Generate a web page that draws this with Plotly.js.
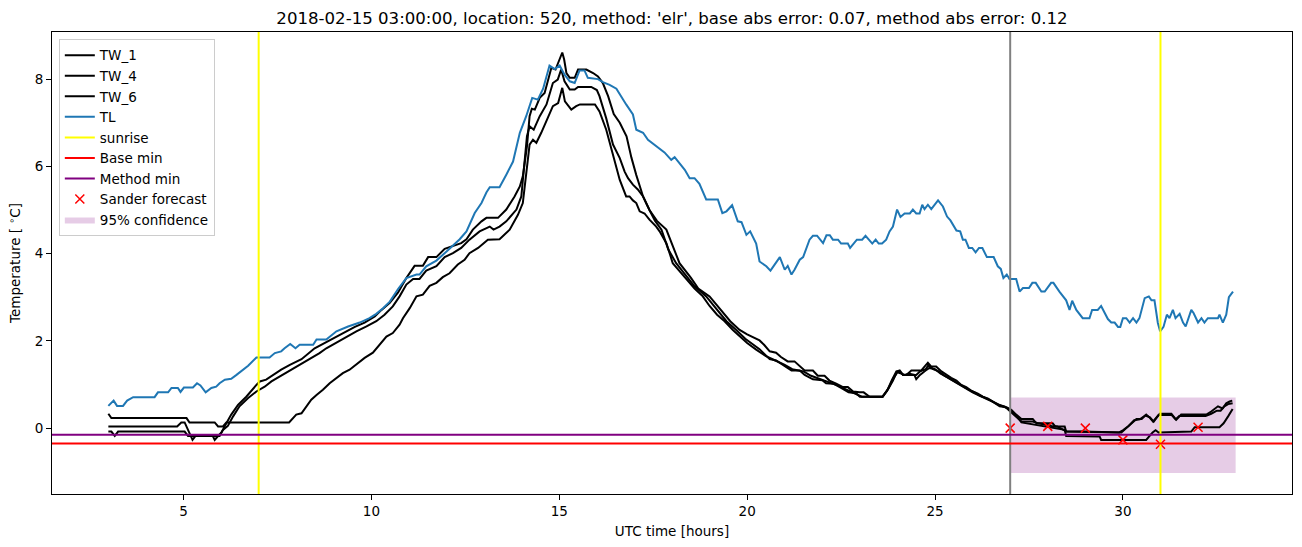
<!DOCTYPE html>
<html>
<head>
<meta charset="utf-8">
<script src="https://cdn.plot.ly/plotly-3.0.1.min.js"></script>
<style>html,body{margin:0;padding:0;background:#fff;}#chart{width:1302px;height:547px;}</style>
</head>
<body>
<div id="chart"></div>
<script>
// ---------------- data ----------------
const chartTitle = "2018-02-15 03:00:00, location: 520, method: 'elr', base abs error: 0.07, method abs error: 0.12";

const tw1_t = [3.0,3.08,5.08,5.16,5.83,5.92,6.05,6.14,7.81,8.0,8.14,8.27,8.4,8.54,8.71,8.89,9.07,9.24,9.42,9.64,9.82,10.04,10.22,10.4,10.57,10.75,10.84,11.02,11.2,11.37,11.55,11.73,11.9,12.08,12.3,12.48,12.61,12.84,13.1,13.41,13.68,13.9,14.03,14.12,14.21,14.3,14.39,14.52,14.83,14.97,15.08,15.15,15.32,15.45,15.55,15.95,16.07,16.25,16.43,16.61,16.78,16.87,16.96,17.05,17.14,17.27,17.4,17.58,17.67,17.85,17.94,18.02,18.2,18.4,18.6,18.82,19.0,19.2,19.4,19.62,19.8,20.0,20.24,20.5,20.75,21.0,21.2,21.5,21.7,21.95,22.2,22.4,22.6,22.8,23.05,23.6,23.72,23.85,23.97,24.06,24.15,24.5,24.6,24.75,24.83,24.95,25.1,25.25,25.4,25.55,25.7,25.85,26.0,26.15,26.3,26.5,26.65,26.8,26.95,27.03,27.2,27.3,27.97,28.45,28.49,29.38,29.42,30.62,30.7,30.79,30.87,30.95,31.82,31.91,32.57,32.68,32.8,32.92];
const tw1_v = [0.33,0.23,0.23,0.13,0.13,0.04,0.04,0.13,0.13,0.31,0.34,0.5,0.65,0.76,0.88,1.03,1.15,1.26,1.34,1.49,1.61,1.73,1.91,2.1,2.18,2.37,2.52,2.75,3.02,3.06,3.26,3.33,3.46,3.55,3.75,3.86,4.01,4.13,4.32,4.33,4.55,4.89,5.16,5.85,6.5,6.61,6.54,6.77,7.38,7.45,7.8,7.49,7.3,7.38,7.42,7.42,7.26,6.84,6.23,5.69,5.31,5.31,5.22,5.16,4.97,4.92,4.78,4.62,4.51,4.24,4.0,3.78,3.6,3.4,3.2,3.02,2.8,2.6,2.45,2.25,2.1,1.95,1.8,1.65,1.55,1.45,1.35,1.3,1.2,1.12,1.05,0.98,0.9,0.82,0.72,0.72,0.85,1.1,1.3,1.3,1.22,1.22,1.3,1.35,1.45,1.35,1.3,1.2,1.12,1.05,0.96,0.9,0.82,0.76,0.7,0.62,0.55,0.5,0.45,0.38,0.25,0.13,0.04,-0.04,-0.18,-0.19,-0.27,-0.27,-0.19,-0.1,-0.05,-0.1,-0.08,0.02,0.02,0.11,0.27,0.44];

const tw4_t = [3.0,4.83,4.94,5.03,5.24,5.32,5.78,5.83,5.92,6.01,6.14,6.27,6.45,6.67,6.94,7.03,7.2,7.38,7.6,7.83,8.0,8.14,8.49,8.98,9.24,9.56,9.82,10.09,10.27,10.49,10.71,10.93,11.15,11.37,11.51,11.73,11.95,12.17,12.39,12.53,12.7,12.93,13.06,13.37,13.59,13.81,13.95,14.03,14.14,14.21,14.27,14.35,14.48,14.61,14.79,14.9,15.01,15.08,15.13,15.19,15.28,15.41,15.5,15.72,15.9,16.03,16.16,16.3,16.45,16.61,16.79,16.92,17.05,17.23,17.4,17.6,17.85,18.0,18.2,18.5,18.7,19.0,19.3,19.55,19.8,20.0,20.33,20.45,20.6,20.77,20.9,21.08,21.26,21.4,21.53,21.75,21.88,22.06,22.19,22.37,22.55,22.68,22.82,22.99,23.1,23.26,23.61,23.75,23.88,23.99,24.06,24.15,24.24,24.37,24.63,24.72,24.81,24.9,25.03,25.17,25.3,25.43,25.57,25.7,25.83,25.96,26.14,26.27,26.45,26.58,26.72,26.9,27.03,27.16,27.3,27.6,27.7,28.13,28.2,28.45,28.49,28.93,29.5,29.96,30.09,30.22,30.36,30.5,30.62,30.7,30.8,30.9,30.98,31.29,31.42,31.55,32.22,32.35,32.45,32.53,32.65,32.75,32.84,32.91];
const tw4_v = [0.04,0.04,0.13,0.13,-0.27,-0.18,-0.18,-0.27,-0.18,-0.1,0.11,0.31,0.53,0.72,0.99,1.07,1.11,1.22,1.34,1.45,1.53,1.58,1.83,2.06,2.18,2.32,2.42,2.56,2.71,2.87,3.11,3.44,3.72,3.72,3.92,3.92,4.11,4.17,4.24,4.33,4.55,4.74,4.82,4.82,5.01,5.31,5.54,5.77,6.46,7.15,7.32,7.3,7.57,7.68,8.26,8.22,8.45,8.61,8.45,8.14,8.03,8.03,8.22,8.22,8.14,8.06,7.91,7.61,7.2,7.0,6.69,6.2,5.8,5.31,5.0,4.75,4.55,4.2,3.78,3.45,3.2,3.02,2.7,2.45,2.25,2.15,2.01,1.91,1.76,1.73,1.63,1.53,1.53,1.43,1.32,1.32,1.2,1.2,1.09,1.02,0.94,0.94,0.84,0.82,0.82,0.72,0.72,0.89,1.09,1.3,1.32,1.22,1.22,1.32,1.32,1.41,1.5,1.41,1.41,1.3,1.22,1.15,1.09,0.99,0.94,0.86,0.79,0.72,0.65,0.57,0.5,0.48,0.42,0.31,0.21,0.21,0.11,0.11,0.04,0.04,-0.08,-0.08,-0.1,-0.1,0.0,0.11,0.21,0.21,0.31,0.25,0.15,0.25,0.33,0.33,0.19,0.31,0.31,0.38,0.44,0.5,0.45,0.57,0.61,0.63];

const tw6_t = [3.0,3.08,3.17,3.26,5.03,5.12,5.96,6.05,6.18,6.32,6.49,6.72,6.94,7.16,7.34,7.56,7.78,8.0,8.2,8.62,8.8,9.07,9.33,9.6,9.87,10.13,10.35,10.57,10.75,10.93,11.11,11.28,11.46,11.73,11.95,12.17,12.39,12.61,12.88,13.15,13.25,13.41,13.59,13.86,13.99,14.14,14.21,14.32,14.48,14.66,14.83,14.96,15.05,15.14,15.28,15.41,15.5,15.85,16.0,16.07,16.25,16.43,16.61,16.74,16.83,16.96,17.09,17.23,17.4,17.55,17.72,17.9,18.11,18.4,18.6,18.91,19.2,19.45,19.71,19.95,20.33,20.6,20.77,21.0,21.18,21.4,21.53,21.75,22.0,22.1,22.3,22.5,22.7,22.9,23.0,23.6,23.75,23.9,24.0,24.1,24.2,24.3,24.45,24.5,24.6,24.75,24.85,25.0,25.15,25.3,25.45,25.6,25.75,25.9,26.05,26.2,26.4,26.55,26.7,26.85,27.0,27.3,27.6,27.75,28.1,28.25,28.5,29.9,30.0,30.15,30.3,30.45,30.6,30.72,30.82,30.95,31.3,31.4,31.5,32.2,32.35,32.5,32.6,32.7,32.8,32.92];
const tw6_v = [-0.08,-0.08,-0.18,-0.08,-0.08,-0.18,-0.18,-0.04,0.05,0.27,0.5,0.69,0.84,0.95,1.07,1.18,1.3,1.41,1.5,1.72,1.83,1.96,2.09,2.22,2.33,2.45,2.6,2.79,3.02,3.29,3.42,3.42,3.61,3.71,3.92,4.01,4.13,4.32,4.51,4.62,4.55,4.62,4.74,5.01,5.31,6.69,6.92,6.84,7.15,7.42,7.91,7.99,8.22,7.95,7.76,7.76,7.82,7.82,7.75,7.61,7.1,6.5,6.19,5.88,5.73,5.58,5.47,5.31,5.0,4.75,4.55,4.1,3.78,3.45,3.25,3.02,2.7,2.45,2.25,2.05,1.81,1.58,1.55,1.41,1.32,1.32,1.22,1.12,1.1,1.03,1.02,0.92,0.82,0.8,0.72,0.72,0.9,1.15,1.28,1.25,1.22,1.25,1.22,1.12,1.22,1.32,1.38,1.35,1.25,1.18,1.1,1.03,0.95,0.88,0.82,0.74,0.68,0.6,0.53,0.5,0.38,0.15,0.15,0.11,0.05,0.04,-0.08,-0.1,-0.05,0.05,0.18,0.2,0.29,0.25,0.15,0.3,0.3,0.2,0.28,0.28,0.33,0.4,0.4,0.5,0.55,0.57];

const tl_t = [3.0,3.14,3.23,3.39,3.5,3.66,4.23,4.32,4.59,4.68,4.85,4.92,5.01,5.25,5.36,5.45,5.59,5.74,5.87,5.96,6.1,6.27,6.41,6.58,6.72,6.94,7.29,7.43,7.6,7.69,7.84,7.98,8.09,8.45,8.54,8.8,9.07,9.38,9.69,9.95,10.13,10.31,10.49,10.71,10.93,11.2,11.28,11.46,11.73,12.0,12.22,12.35,12.53,12.75,12.93,13.06,13.15,13.41,13.59,13.77,13.95,14.12,14.28,14.43,14.57,14.74,14.88,15.01,15.14,15.28,15.41,15.54,15.67,15.76,16.03,16.16,16.34,16.52,16.78,16.96,17.05,17.23,17.36,17.63,17.8,17.98,18.07,18.34,18.47,18.6,18.73,18.91,19.22,19.34,19.45,19.6,19.75,19.85,19.98,20.08,20.24,20.33,20.51,20.62,20.73,20.87,21.0,21.08,21.18,21.26,21.4,21.49,21.66,21.75,21.86,22.02,22.11,22.2,22.28,22.42,22.5,22.68,22.74,22.92,23.06,23.15,23.33,23.42,23.5,23.59,23.7,23.79,23.88,23.99,24.08,24.19,24.33,24.41,24.5,24.59,24.66,24.72,24.81,24.9,25.08,25.21,25.32,25.41,25.57,25.67,25.74,25.81,25.9,25.99,26.08,26.17,26.26,26.38,26.56,26.67,26.75,26.82,26.91,26.98,27.16,27.25,27.34,27.5,27.59,27.68,27.83,27.92,28.09,28.15,28.31,28.49,28.58,28.65,28.76,28.93,29.11,29.18,29.33,29.42,29.6,29.69,29.78,29.87,29.93,30.0,30.09,30.18,30.27,30.36,30.44,30.58,30.69,30.76,30.84,30.93,30.99,31.08,31.17,31.24,31.33,31.4,31.51,31.6,31.67,31.82,31.88,32.0,32.09,32.17,32.26,32.53,32.57,32.66,32.75,32.82,32.93];
const tl_v = [0.51,0.63,0.51,0.51,0.63,0.71,0.71,0.82,0.82,0.92,0.92,0.83,0.93,0.93,1.03,0.98,0.82,0.92,0.95,1.03,1.11,1.13,1.22,1.34,1.43,1.62,1.62,1.72,1.76,1.83,1.93,1.83,1.91,1.91,2.03,2.03,2.22,2.33,2.42,2.52,2.62,2.75,2.9,3.19,3.44,3.52,3.52,3.71,3.84,4.05,4.24,4.33,4.51,4.93,5.16,5.4,5.52,5.52,5.81,6.11,6.77,7.15,7.57,7.53,7.78,8.31,8.23,8.31,8.1,7.95,7.91,8.2,8.2,8.03,8.0,7.93,7.87,7.78,7.42,7.19,6.84,6.77,6.61,6.42,6.32,6.15,6.21,5.92,5.73,5.73,5.6,5.24,5.24,4.93,4.97,5.11,4.74,4.72,4.43,4.51,4.23,3.82,3.71,3.61,3.75,3.92,3.63,3.72,3.52,3.63,3.86,3.92,4.32,4.41,4.41,4.24,4.42,4.42,4.32,4.32,4.23,4.23,4.13,4.32,4.32,4.41,4.23,4.32,4.23,4.23,4.32,4.51,4.62,5.01,4.84,4.92,4.92,5.01,4.92,4.92,5.12,5.02,5.12,5.02,5.22,5.08,4.85,4.76,4.53,4.51,4.32,4.32,4.13,4.13,4.03,4.13,4.13,3.92,3.92,3.71,3.65,3.44,3.52,3.42,3.42,3.13,3.21,3.21,3.33,3.33,3.13,3.13,3.33,3.33,3.13,2.93,2.71,2.92,2.71,2.52,2.52,2.71,2.71,2.8,2.5,2.42,2.42,2.32,2.32,2.52,2.52,2.42,2.52,2.42,2.52,2.98,3.02,2.93,2.93,2.41,2.22,2.32,2.6,2.52,2.71,2.52,2.62,2.42,2.33,2.71,2.64,2.42,2.52,2.42,2.52,2.52,2.6,2.42,2.6,3.0,3.13];

const sunriseHours = [7, 31];
const forecastStart = 27;
const baseMin = -0.35;
const methodMin = -0.15;
const sander_t = [27, 28, 29, 30, 31, 32];
const sander_v = [0.0, 0.04, 0.0, -0.27, -0.37, 0.02];
const confStart = 27, confEnd = 33, confLow = -1.03, confHigh = 0.70;

const xTicks = [5, 10, 15, 20, 25, 30];
const yTicks = [0, 2, 4, 6, 8];

// ---------------- chart ----------------
const FONT = 'DejaVu Sans, Liberation Sans, sans-serif';
const LW = 2;

const traces = [
  {x: [confStart, confEnd, confEnd, confStart, confStart], y: [confLow, confLow, confHigh, confHigh, confLow],
   type: 'scatter', mode: 'lines', fill: 'toself', fillcolor: 'rgba(128,0,128,0.2)',
   line: {width: 0, color: 'rgba(128,0,128,0.2)'}, name: '95% confidence', legendrank: 9, hoverinfo: 'skip'},
  {x: tw1_t, y: tw1_v, type: 'scatter', mode: 'lines', name: 'TW_1', line: {color: 'black', width: LW}, legendrank: 1},
  {x: tw4_t, y: tw4_v, type: 'scatter', mode: 'lines', name: 'TW_4', line: {color: 'black', width: LW}, legendrank: 2},
  {x: tw6_t, y: tw6_v, type: 'scatter', mode: 'lines', name: 'TW_6', line: {color: 'black', width: LW}, legendrank: 3},
  {x: tl_t, y: tl_v, type: 'scatter', mode: 'lines', name: 'TL', line: {color: '#1f77b4', width: LW}, legendrank: 4},
  {x: [null], y: [null], type: 'scatter', mode: 'lines', name: 'sunrise', line: {color: '#ffff00', width: LW}, legendrank: 5},
  {x: [null], y: [null], type: 'scatter', mode: 'lines', name: 'Base min', line: {color: '#ff0000', width: LW}, legendrank: 6},
  {x: [null], y: [null], type: 'scatter', mode: 'lines', name: 'Method min', line: {color: '#800080', width: LW}, legendrank: 7},
  {x: sander_t, y: sander_v, type: 'scatter', mode: 'markers', name: 'Sander forecast', legendrank: 8,
   marker: {symbol: 'x-thin', size: 9, color: '#ff0000', line: {color: '#ff0000', width: 1.5}}}
];

const shapes = [];
sunriseHours.forEach(h => shapes.push({type: 'line', xref: 'x', yref: 'paper', x0: h, x1: h, y0: 0, y1: 1,
  line: {color: '#ffff00', width: LW}, layer: 'above'}));
shapes.push({type: 'line', xref: 'x', yref: 'paper', x0: forecastStart, x1: forecastStart, y0: 0, y1: 1,
  line: {color: '#808080', width: LW}, layer: 'above'});
shapes.push({type: 'line', xref: 'paper', yref: 'y', x0: 0, x1: 1, y0: baseMin, y1: baseMin,
  line: {color: '#ff0000', width: LW}, layer: 'above'});
shapes.push({type: 'line', xref: 'paper', yref: 'y', x0: 0, x1: 1, y0: methodMin, y1: methodMin,
  line: {color: '#800080', width: LW}, layer: 'above'});

const layout = {
  width: 1302, height: 547,
  margin: {l: 52, r: 10, t: 32, b: 53},
  paper_bgcolor: '#ffffff', plot_bgcolor: '#ffffff',
  font: {family: FONT, size: 14, color: '#000000'},
  title: {text: chartTitle, x: 0.5, xref: 'paper', xanchor: 'center', y: 1 - 18/547, yref: 'container', yanchor: 'middle',
          font: {family: FONT, size: 16.6, color: '#000'}},
  showlegend: true,
  legend: {x: 0.0055, y: 0.985, xanchor: 'left', yanchor: 'top', bgcolor: 'rgba(255,255,255,0.8)',
           bordercolor: '#cccccc', borderwidth: 1, font: {family: FONT, size: 13.5}, tracegroupgap: 0},
  xaxis: {range: [1.5, 34.5], tickvals: xTicks, ticktext: xTicks.map(String), ticks: 'outside', ticklen: 5, tickwidth: 1,
          tickcolor: '#000', showgrid: false, zeroline: false, showline: true, mirror: true, linecolor: '#000', linewidth: 1,
          tickfont: {size: 13.5}, title: {text: 'UTC time [hours]', font: {size: 13.5}, standoff: 8}, automargin: false},
  yaxis: {range: [-1.51, 9.08], tickvals: yTicks, ticktext: yTicks.map(String), ticks: 'outside', ticklen: 5, tickwidth: 1,
          tickcolor: '#000', showgrid: false, zeroline: false, showline: true, mirror: true, linecolor: '#000', linewidth: 1,
          tickfont: {size: 13.5}, title: {text: 'Temperature [ <sup>∘</sup>C]', font: {size: 13.5}, standoff: 10}, automargin: false},
  shapes: shapes
};

Plotly.newPlot('chart', traces, layout, {staticPlot: true, displayModeBar: false});
</script>
</body>
</html>
